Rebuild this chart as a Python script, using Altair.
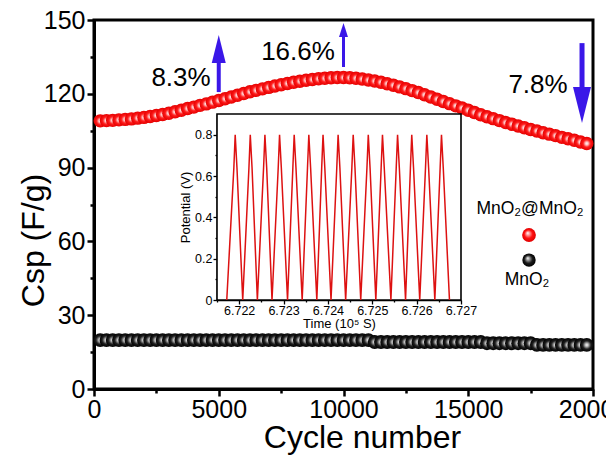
import altair as alt
import pandas as pd

FONT = "Liberation Sans"

# ---------------- main data ----------------
cycles = list(range(250, 19751, 250))
red_csp = [109.0, 109.1, 109.2, 109.4, 109.6, 109.8, 110.1, 110.4, 110.8, 111.2,
           111.6, 112.1, 112.7, 113.3, 114.0, 114.6, 115.3, 115.9, 116.6, 117.3,
           118.0, 118.7, 119.4, 120.1, 120.8, 121.4, 122.0, 122.6, 123.2, 123.7,
           124.2, 124.7, 125.1, 125.5, 125.8, 126.1, 126.3, 126.5, 126.6, 126.6,
           126.5, 126.3, 126.0, 125.6, 125.2, 124.7, 124.1, 123.5, 122.8, 122.1,
           121.3, 120.5, 119.6, 118.7, 117.8, 116.9, 116.0, 115.1, 114.2, 113.3,
           112.4, 111.5, 110.7, 109.9, 109.1, 108.3, 107.6, 106.9, 106.2, 105.5,
           104.9, 104.2, 103.6, 103.0, 102.3, 101.7, 101.1, 100.4, 99.8]
black_csp = [19.9, 19.9, 19.9, 19.9, 19.9, 19.9, 19.9, 19.9, 19.9, 19.9,
             19.9, 19.9, 19.9, 19.9, 19.9, 19.9, 19.9, 19.9, 19.9, 19.9,
             19.9, 19.9, 19.9, 19.9, 19.9, 19.9, 19.9, 19.9, 19.9, 19.9,
             19.9, 19.9, 19.9, 19.9, 19.9, 19.9, 19.9, 19.9, 19.9, 19.9,
             19.9, 19.9, 19.9, 19.9,
             19.1, 19.1, 19.1, 19.1, 19.1, 19.1, 19.1, 19.1, 19.1, 19.1,
             19.1, 19.1, 19.1, 19.1, 19.1, 19.1, 19.1, 19.1,
             18.6, 18.6, 18.6, 18.6, 18.6, 18.6, 18.6, 18.6,
             17.9, 17.9, 17.9, 17.9, 17.9, 17.9, 17.9, 17.9, 17.9]

# ---------------- inset data (vertices of the charge/discharge curve) ----------------
valley_time = [6.72172, 6.72208, 6.72241, 6.72274, 6.72309, 6.72342, 6.72375, 6.72407,
               6.72440, 6.72474, 6.72508, 6.72542, 6.72575, 6.72607, 6.72641, 6.72674]
pre_shoulder_time = [6.72188, 6.72222, 6.72255, 6.72288, 6.72321, 6.72354, 6.72386, 6.72420,
                     6.72454, 6.72488, 6.72520, 6.72554, 6.72586, 6.72620, 6.72653]
peak_time = [6.72191, 6.72225, 6.72258, 6.72291, 6.72324, 6.72357, 6.72389, 6.72423,
             6.72457, 6.72491, 6.72523, 6.72557, 6.72589, 6.72623, 6.72656]
post_shoulder_time = [6.72195, 6.72229, 6.72262, 6.72295, 6.72328, 6.72361, 6.72393, 6.72427,
                      6.72461, 6.72495, 6.72527, 6.72561, 6.72593, 6.72627, 6.72660]
valley_potential = 0.0
shoulder_potential = 0.64
peak_potential = 0.80

# ---------------- annotations ----------------
arrow_cycle = [5000, 10000, 19560]
arrow_tail = [120.7, 130.9, 140.6]
arrow_head = [138.2, 145.9, 115.4]
arrow_head_size = [784, 196, 1296]
arrow_head_shape = ["M-0.5,1L0.5,1L0,-1Z", "M-0.64,1L0.64,1L0,-1Z", "M-0.5,-1L0.5,-1L0,1Z"]
arrow_width = [4, 3, 5]

pct_labels = ["8.3%", "16.6%", "7.8%"]
pct_cycle = [3487, 8176, 17796]
pct_csp = [126.4, 137.0, 123.6]

legend_labels = ["MnO\u2082@MnO\u2082", "MnO\u2082"]
legend_label_cycle = [17475, 17355]
legend_label_csp = [73.2, 44.3]
legend_marker_cycle = [17435, 17435]
legend_marker_csp = [62.6, 52.4]

BLUE = "#3a17e8"

# ---------------- tables ----------------
df_red = pd.DataFrame({"cycle": cycles, "csp": red_csp})
df_black = pd.DataFrame({"cycle": cycles, "csp": black_csp})
df_arrow = pd.DataFrame({"cycle": arrow_cycle, "csp": arrow_tail, "csp2": arrow_head,
                         "hs": arrow_head_size, "shape": arrow_head_shape, "w": arrow_width})
df_pct = pd.DataFrame({"cycle": pct_cycle, "csp": pct_csp, "label": pct_labels})
df_leg_text = pd.DataFrame({"cycle": legend_label_cycle, "csp": legend_label_csp, "label": legend_labels})
df_leg_red = pd.DataFrame({"cycle": [legend_marker_cycle[0]], "csp": [legend_marker_csp[0]]})
df_leg_black = pd.DataFrame({"cycle": [legend_marker_cycle[1]], "csp": [legend_marker_csp[1]]})

rows = []
for i in range(len(peak_time)):
    rows.append((valley_time[i], valley_potential))
    rows.append((pre_shoulder_time[i], shoulder_potential))
    rows.append((peak_time[i], peak_potential))
    rows.append((post_shoulder_time[i], shoulder_potential))
rows.append((valley_time[-1], valley_potential))
df_inset = pd.DataFrame({"t": [r[0] for r in rows], "v": [r[1] for r in rows],
                         "idx": list(range(len(rows)))})
df_box = pd.DataFrame({"t": [6.7215], "t2": [6.727], "v": [0.0], "v2": [0.9]})


def grad(stops, cx=0.5, cy=0.5):
    return {"gradient": "radial", "x1": cx, "y1": cy, "r1": 0, "x2": 0.5, "y2": 0.5, "r2": 0.5,
            "stops": [{"offset": o, "color": c} for o, c in stops]}


RED_G = grad([(0, "#ffffff"), (0.22, "#ffc4c4"), (0.55, "#ff1a1a"), (1, "#e40000")])
BLACK_G = grad([(0, "#ffffff"), (0.25, "#b4b4b4"), (0.6, "#202020"), (1, "#000000")])
RED_GL = grad([(0, "#ffffff"), (0.25, "#ff9a9a"), (0.6, "#ff1010"), (1, "#e00000")], 0.4, 0.35)
BLACK_GL = grad([(0, "#ffffff"), (0.25, "#9a9a9a"), (0.6, "#1a1a1a"), (1, "#000000")], 0.4, 0.35)

# ---------------- main axes ----------------
x_scale = alt.Scale(domain=[0, 20000], nice=False, zero=False)
y_scale = alt.Scale(domain=[0, 150], nice=False)

x_axis = alt.Axis(
    values=list(range(0, 20001, 2500)), format="d",
    labelExpr="datum.value % 5000 == 0 ? datum.label : ''",
    tickSize={"condition": {"test": "datum.value % 5000 == 0", "value": 7}, "value": 4},
    tickWidth=2.5, tickColor="black", domainWidth=3, domainColor="black",
    labelFont=FONT, labelFontSize=25, labelColor="black", labelPadding=1,
    labelFlush=False, labelOverlap=False, grid=False,
    title="Cycle number", titleFont=FONT, titleFontSize=32, titleFontWeight="normal",
    titleColor="black", titleX=268, titleY=58, titleBaseline="alphabetic", titleAlign="center",
)
y_axis = alt.Axis(
    values=list(range(0, 151, 15)),
    labelExpr="datum.value % 30 == 0 ? datum.label : ''",
    tickSize={"condition": {"test": "datum.value % 30 == 0", "value": 7}, "value": 4},
    tickWidth=2.5, tickColor="black", domainWidth=3, domainColor="black",
    labelFont=FONT, labelFontSize=25, labelColor="black", labelPadding=2,
    labelFlush=False, labelOverlap=False, grid=False,
    title="Csp (F/g)", titleFont=FONT, titleFontSize=32, titleFontWeight="normal",
    titleColor="black", titleX=-44, titleY=220, titleAngle=270, titleBaseline="bottom",
    titleAlign="center",
)

X = alt.X("cycle:Q", scale=x_scale, axis=x_axis)
Y = alt.Y("csp:Q", scale=y_scale, axis=y_axis)

black_dots = alt.Chart(df_black).mark_circle(size=190, fill=BLACK_G, opacity=1).encode(x=X, y=Y)
red_dots = alt.Chart(df_red).mark_circle(size=180, fill=RED_G, opacity=1).encode(x=X, y=Y)

arrow_shafts = alt.Chart(df_arrow).mark_rule(color=BLUE).encode(
    x=X, y=Y, y2="csp2:Q", size=alt.Size("w:Q", scale=None, legend=None))
arrow_heads = alt.Chart(df_arrow).mark_point(filled=True, color=BLUE, opacity=1).encode(
    x=X, y=alt.Y("csp2:Q", scale=y_scale, axis=y_axis),
    size=alt.Size("hs:Q", scale=None, legend=None),
    shape=alt.Shape("shape:N", scale=None, legend=None))

pct_text = alt.Chart(df_pct).mark_text(font=FONT, fontSize=26, color="black", baseline="middle").encode(
    x=X, y=Y, text="label:N")

leg_text = alt.Chart(df_leg_text).mark_text(font=FONT, fontSize=17.5, color="black", baseline="middle").encode(
    x=X, y=Y, text="label:N")
leg_red = alt.Chart(df_leg_red).mark_circle(size=190, fill=RED_GL, opacity=1).encode(x=X, y=Y)
leg_black = alt.Chart(df_leg_black).mark_circle(size=180, fill=BLACK_GL, opacity=1).encode(x=X, y=Y)

main = alt.layer(black_dots, red_dots, arrow_shafts, arrow_heads, pct_text, leg_text, leg_red, leg_black)

# ---------------- inset ----------------
ix_scale = alt.Scale(domain=[6.7215, 6.727], range=[123, 367], nice=False, zero=False)
iy_scale = alt.Scale(domain=[0, 0.9], range=[280, 94], nice=False, zero=False)

ix_axis = alt.Axis(
    orient="bottom", offset=-89,
    values=[6.7215, 6.722, 6.7225, 6.723, 6.7235, 6.724, 6.7245, 6.725, 6.7255, 6.726, 6.7265, 6.727],
    labelExpr="round(datum.value * 10000) % 10 == 0 ? format(datum.value, '.3f') : ''",
    tickSize={"condition": {"test": "round(datum.value * 10000) % 10 == 0", "value": 4}, "value": 2},
    tickWidth=1.3, tickColor="black", domainWidth=1.6, domainColor="black",
    labelFont=FONT, labelFontSize=12.5, labelColor="black", labelPadding=0,
    labelFlush=False, labelOverlap=False, grid=False,
    title="Time (10\u2075 S)", titleFont=FONT, titleFontSize=13, titleFontWeight="normal",
    titleColor="black", titlePadding=1,
)
iy_axis = alt.Axis(
    orient="left", offset=-123,
    values=[0, 0.1, 0.2, 0.3, 0.4, 0.5, 0.6, 0.7, 0.8],
    labelExpr="round(datum.value * 10) % 2 == 0 ? (datum.value == 0 ? '0' : format(datum.value, '.1f')) : ''",
    tickSize={"condition": {"test": "round(datum.value * 10) % 2 == 0", "value": 4}, "value": 2},
    tickWidth=1.3, tickColor="black", domainWidth=1.6, domainColor="black",
    labelFont=FONT, labelFontSize=12.5, labelColor="black", labelPadding=1,
    labelFlush=False, labelOverlap=False, grid=False,
    title="Potential (V)", titleFont=FONT, titleFontSize=13, titleFontWeight="normal",
    titleColor="black", titlePadding=2,
)

IX = alt.X("t:Q", scale=ix_scale, axis=ix_axis)
IY = alt.Y("v:Q", scale=iy_scale, axis=iy_axis)

inset_box = alt.Chart(df_box).mark_rect(fill="white", stroke="black", strokeWidth=1.6).encode(
    x=IX, x2="t2:Q", y=IY, y2="v2:Q")
inset_line = alt.Chart(df_inset).mark_line(color="#dd1111", strokeWidth=1.5).encode(
    x=IX, y=IY, order="idx:Q")

inset = alt.layer(inset_box, inset_line)

chart = alt.layer(main, inset).resolve_scale(x="independent", y="independent").properties(
    width=499, height=369,
    autosize=alt.AutoSizeParams(type="none"),
    padding={"left": 86, "top": 12, "right": 13, "bottom": 69},
).configure_view(stroke="black", strokeWidth=3)

chart.save("out.html", embed_options={"renderer": "svg", "actions": False})
